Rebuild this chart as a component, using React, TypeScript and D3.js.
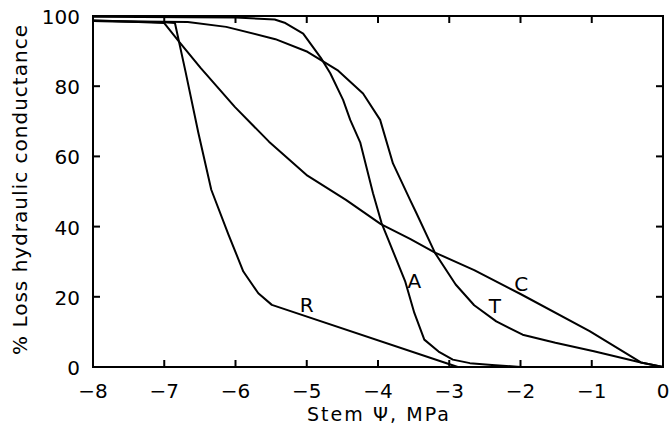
import React from "react";
import * as d3 from "d3";

const xTicks = [-8, -7, -6, -5, -4, -3, -2, -1, 0];
const yTicks = [0, 20, 40, 60, 80, 100];

const seriesR: [number, number][] = [
  [-8, 98.6], [-7, 98.2], [-6.85, 98.0], [-6.7, 84], [-6.52, 66.6], [-6.34, 50.5],
  [-6.1, 37.8], [-5.89, 27.2], [-5.68, 21.0], [-5.49, 17.7], [-2.88, 0],
];
const seriesA: [number, number][] = [
  [-8, 99.8], [-6, 99.6], [-5.45, 99], [-5.3, 98], [-5.05, 95], [-4.8, 88],
  [-4.67, 83.7], [-4.49, 76.1], [-4.39, 70.4], [-4.25, 64], [-4.07, 49.5],
  [-3.95, 41], [-3.85, 36], [-3.62, 24.5], [-3.49, 15.4], [-3.35, 7.8],
  [-3.15, 4.4], [-2.95, 2.1], [-2.71, 1.1], [-2.4, 0.6], [-2.0, 0],
];
const seriesT: [number, number][] = [
  [-8, 98.6], [-6.67, 98.3], [-6.13, 96.9], [-5.44, 93.4], [-4.99, 89.8],
  [-4.57, 84.6], [-4.21, 77.9], [-3.97, 70.4], [-3.79, 58], [-3.55, 47.6],
  [-3.46, 43.8], [-3.2, 32.5], [-2.91, 23.5], [-2.65, 17.6], [-2.34, 13],
  [-1.97, 9.2], [-1.51, 6.9], [-0.97, 4.5], [-0.31, 1.3], [0, 0],
];
const seriesC: [number, number][] = [
  [-8, 98.8], [-7, 98], [-6.79, 92.6], [-6.49, 85.2], [-6.01, 74.1], [-5.53, 64.2],
  [-4.99, 54.5], [-4.45, 47.6], [-3.96, 40.7], [-3.55, 36.5], [-3.2, 32.6],
  [-2.65, 27.6], [-2.0, 20.8], [-1.03, 10.2], [-0.31, 1.3], [0, 0],
];

const seriesList = [seriesR, seriesA, seriesT, seriesC];
const curveLabels = ["R", "A", "T", "C"];
const labelX = [-5.0, -3.49, -2.36, -1.99];
const labelY = [15.8, 22.4, 15.3, 21.7];

const W = 670, H = 432;
const L = 93, R = 663, T = 16, B = 367;
const FONT = "'DejaVu Sans', sans-serif";

export default function App() {
  const x = d3.scaleLinear().domain([-8, 0]).range([L, R]);
  const y = d3.scaleLinear().domain([0, 100]).range([B, T]);
  const line = d3.line<[number, number]>().x(d => x(d[0])).y(d => y(d[1]));
  const tk = 7;
  const fmt = (v: number) => (v < 0 ? "\u2212" + Math.abs(v) : String(v));
  return (
    <svg width={W} height={H} style={{ position: "absolute", left: 0, top: 0, background: "#fff" }}>
      <g fill="none" stroke="#000" strokeWidth={2}>
        {seriesList.map((s, i) => (
          <path key={i} d={line(s) || ""} strokeLinejoin="round" />
        ))}
      </g>
      <g stroke="#000" strokeWidth={2}>
        {xTicks.map(v => (
          <g key={"xt" + v}>
            <line x1={x(v)} x2={x(v)} y1={B} y2={B - tk} />
            <line x1={x(v)} x2={x(v)} y1={T} y2={T + tk} />
          </g>
        ))}
        {yTicks.map(v => (
          <g key={"yt" + v}>
            <line x1={L} x2={L + tk} y1={y(v)} y2={y(v)} />
            <line x1={R} x2={R - tk} y1={y(v)} y2={y(v)} />
          </g>
        ))}
        <rect x={L} y={T} width={R - L} height={B - T} fill="none" />
      </g>
      <g fontFamily={FONT} fontSize={20} fill="#000">
        {xTicks.map(v => (
          <text key={"xl" + v} x={x(v)} y={398} textAnchor="middle">{fmt(v)}</text>
        ))}
        {yTicks.map(v => (
          <text key={"yl" + v} x={80} y={y(v) + 8} textAnchor="end">{fmt(v)}</text>
        ))}
        {curveLabels.map((c, i) => (
          <text key={c} x={x(labelX[i])} y={y(labelY[i])} textAnchor="middle">{c}</text>
        ))}
        <text x={378} y={421} fontSize={19} textAnchor="middle" textLength={142} lengthAdjust="spacing">Stem {"\u03A8"}, MPa</text>
        <text transform={`translate(27,190) rotate(-90)`} textAnchor="middle" textLength={330} lengthAdjust="spacing">% Loss hydraulic conductance</text>
      </g>
    </svg>
  );
}
